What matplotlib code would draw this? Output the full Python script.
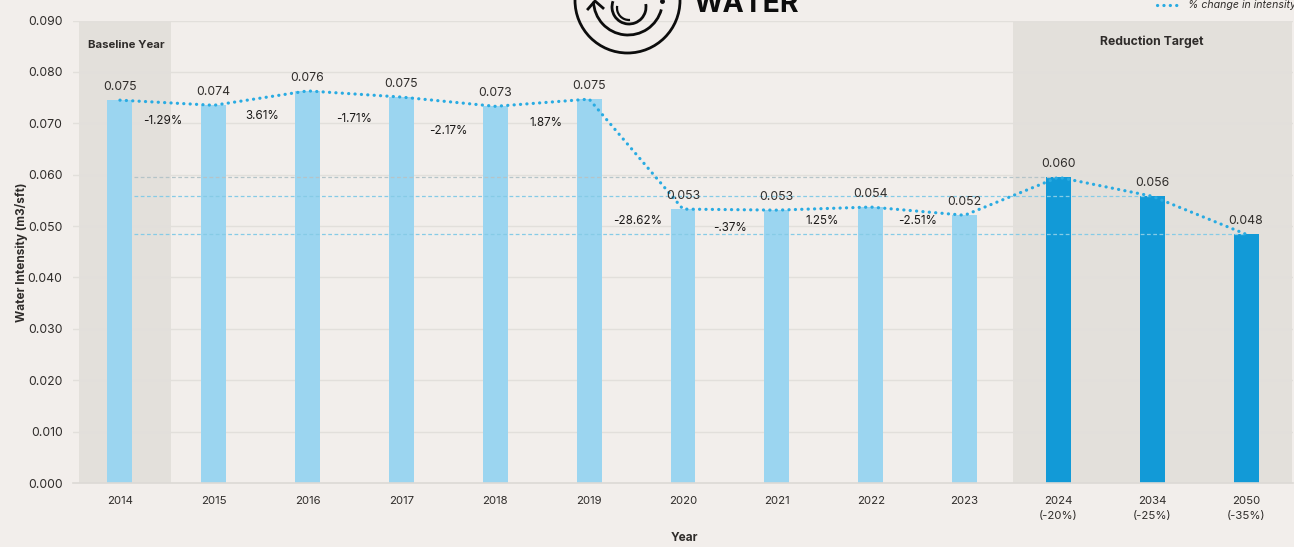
import matplotlib
matplotlib.use('Agg')
from matplotlib import pyplot as plt
from matplotlib.patches import Arc, Circle

plt.rcParams['font.family'] = ['Inter', 'DejaVu Sans']

years = ['2014', '2015', '2016', '2017', '2018', '2019', '2020',
         '2021', '2022', '2023', '2024\n(-20%)', '2034\n(-25%)', '2050\n(-35%)']
intensity = [0.0745, 0.0735, 0.0763, 0.0751, 0.0733, 0.0747, 0.0533,
             0.0531, 0.0537, 0.0521, 0.0595, 0.0558, 0.0484]
value_labels = ['0.075', '0.074', '0.076', '0.075', '0.073', '0.075', '0.053',
                '0.053', '0.054', '0.052', '0.060', '0.056', '0.048']
changes = ['-1.29%', '3.61%', '-1.71%', '-2.17%', '1.87%', '-28.62%',
           '-.37%', '1.25%', '-2.51%']
change_x = [0.46, 1.52, 2.5, 3.5, 4.54, 5.52, 6.5, 7.48, 8.5]
change_heights = [0.0705, 0.0715, 0.0709, 0.0684, 0.0701, 0.0510,
                  0.0497, 0.0510, 0.0510]
target_levels = [0.0595, 0.0558, 0.0484]
yticks = [0.0, 0.01, 0.02, 0.03, 0.04, 0.05, 0.06, 0.07, 0.08, 0.09]

BG = '#f2eeeb'
BAND = '#e3e0db'
GRID = '#e2dfdb'
LIGHT = '#9bd5f0'
DARK = '#129ad7'
LINE = '#29abe2'
TEXT = '#2f2c2a'
DOTS = (0, (0.05, 1.95))

W, H = 1294, 547
fig = plt.figure(figsize=(W / 100, H / 100), dpi=100, facecolor=BG)
ax = fig.add_axes([73 / W, 1 - 483 / H, (1293 - 73) / W, (483 - 20.5) / H], facecolor=BG)

x = list(range(len(years)))
ax.set_xlim(-0.5, 12.5)
ax.set_ylim(0, 0.09)

ax.axvspan(-0.44, 0.54, color=BAND, lw=0, zorder=0)
ax.axvspan(9.52, 12.49, color=BAND, lw=0, zorder=0)
ax.set_axisbelow(True)
ax.yaxis.grid(True, color=GRID, lw=1.0)
ax.set_yticks(yticks)
ax.set_yticklabels(['%.3f' % t for t in yticks], fontsize=8.8, color=TEXT)
ax.set_xticks(x)
ax.set_xticklabels(years, fontsize=8.2, color=TEXT, linespacing=1.65)
ax.tick_params(length=0)
ax.tick_params(axis='x', pad=9)
ax.tick_params(axis='y', pad=7.5)
for s in ax.spines.values():
    s.set_visible(False)
ax.spines['bottom'].set_visible(True)
ax.spines['bottom'].set_color('#dcd9d5')
ax.spines['bottom'].set_linewidth(1.2)

colors = [LIGHT] * 10 + [DARK] * 3
ax.bar(x, intensity, width=0.265, color=colors, zorder=2)

# dashed guides running back from the targets
ax.plot([0.15, 10], [target_levels[0]] * 2, color='#b5c4c8', lw=0.9, ls=(0, (3, 2)), zorder=3)
ax.plot([0.15, 11], [target_levels[1]] * 2, color='#86cbe6', lw=0.9, ls=(0, (3, 2)), zorder=3)
ax.plot([0.15, 12], [target_levels[2]] * 2, color='#86cbe6', lw=0.9, ls=(0, (3, 2)), zorder=3)

ax.plot(x, intensity, color=LINE, lw=2.3, ls=DOTS, zorder=4, dash_capstyle='round')

for i, v in enumerate(intensity):
    ax.annotate(value_labels[i], (i, v), xytext=(0, 5), textcoords='offset points',
                ha='center', va='bottom', fontsize=8.8, color=TEXT, zorder=5)
for cx, h, c in zip(change_x, change_heights, changes):
    ax.text(cx, h, c, ha='center', va='center', fontsize=8.4, color='#1c1a19', zorder=5)

ax.text(0.07, 0.0853, 'Baseline Year', ha='center', va='center', fontsize=8.2,
        fontweight='bold', color=TEXT)
ax.text(11.0, 0.0859, 'Reduction Target', ha='center', va='center', fontsize=8.8,
        fontweight='bold', color=TEXT)

ax.set_ylabel('Water Intensity (m3/sft)', fontsize=8.5, fontweight='bold', color=TEXT)
ax.yaxis.set_label_coords((28 - 73) / (1293 - 73), 0.5)
ax.set_xlabel('Year', fontsize=8.5, fontweight='bold', color=TEXT)
ax.xaxis.set_label_coords((684 - 73) / (1293 - 73), -(532 - 483) / (483 - 20.5))

# logo and legend live in a pixel-coordinate overlay
ov = fig.add_axes([0, 0, 1, 1], facecolor='none')
ov.set_xlim(0, W)
ov.set_ylim(H, 0)
ov.axis('off')
ov.add_patch(Circle((627.5, 0.5), 52.5, fill=False, ec='#0d0d0d', lw=2))
ov.add_patch(Arc((628, 0.5), 69, 69, theta1=15, theta2=178, ec='#0d0d0d', lw=2))
ov.add_patch(Arc((629, 7), 34, 34, theta1=-10, theta2=200, ec='#0d0d0d', lw=2))
ov.add_patch(Arc((629, 8), 24, 24, theta1=85, theta2=190, ec='#0d0d0d', lw=1.6))
ov.plot([588, 595, 603], [9, 1, 8], color='#0d0d0d', lw=2)
ov.plot([662], [1], marker='o', ms=2.5, color='#0d0d0d')
ov.text(693.5, 11.5, 'WATER', fontsize=20.5, fontweight='bold', color='#0d0d0d',
        ha='left', va='baseline', clip_on=False)

ov.plot([1157, 1179], [5, 5], color=LINE, lw=2.3, ls=DOTS, dash_capstyle='round')
ov.text(1188, 5.5, '% change in intensity', fontsize=7.6, style='italic', color=TEXT,
        ha='left', va='center')

fig.savefig('out.png', dpi=100, facecolor=BG)
